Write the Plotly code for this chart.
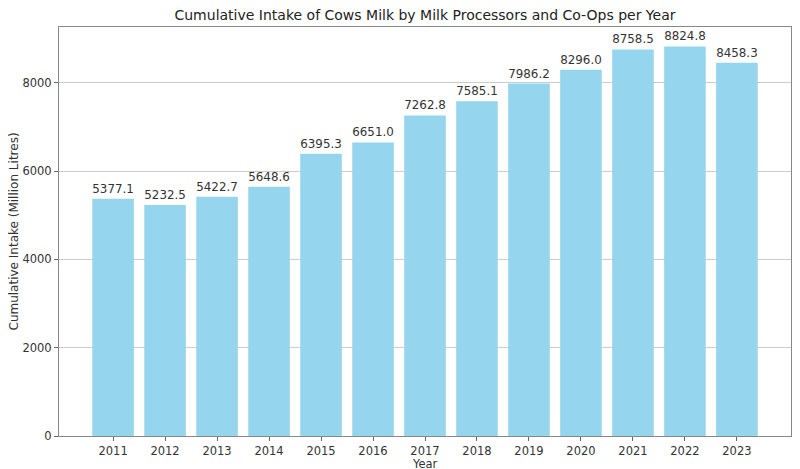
import plotly.graph_objects as go

years = [2011, 2012, 2013, 2014, 2015, 2016, 2017, 2018, 2019, 2020, 2021, 2022, 2023]
intake = [5377.1, 5232.5, 5422.7, 5648.6, 6395.3, 6651.0, 7262.8, 7585.1, 7986.2, 8296.0, 8758.5, 8824.8, 8458.3]
y_ticks = [0, 2000, 4000, 6000, 8000]

# page body has an 8px default margin; size the figure to fit the window
W, H = 792, 461
PW, PH = 732, 409  # plot area size in px

fig = go.Figure()
fig.add_trace(go.Bar(
    x=years, y=intake, width=0.8,
    marker=dict(color="rgb(150,213,238)", line=dict(width=0)),
    text=[f"{v:.1f}" for v in intake], textposition="outside",
    textfont=dict(family="DejaVu Sans", size=12, color="#333333"),
    cliponaxis=False,
))

fig.update_layout(
    width=W, height=H,
    margin=dict(l=51, r=9, t=19, b=33, autoexpand=False),
    plot_bgcolor="white", paper_bgcolor="white",
    font=dict(family="DejaVu Sans", size=11.5, color="#333333"),
    title=dict(text="Cumulative Intake of Cows Milk by Milk Processors and Co-Ops per Year",
               x=0.5, xanchor="center", xref="paper", yref="container",
               y=1 - 7 / H, yanchor="middle", automargin=False,
               font=dict(size=14, color="#222222")),
    showlegend=False,
    bargap=0.2,
    annotations=[
        dict(text="Year", xref="paper", yref="paper", x=0.5, y=-28 / PH,
             xanchor="center", yanchor="middle", showarrow=False, borderpad=0,
             font=dict(size=11.5, color="#333333")),
        dict(text="Cumulative Intake (Million Litres)", xref="paper", yref="paper",
             x=-46 / PW, y=0.5, xanchor="center", yanchor="middle", textangle=-90,
             showarrow=False, borderpad=0, font=dict(size=12, color="#333333")),
    ],
)
fig.update_xaxes(
    range=[2009.96, 2024.04], tickvals=years, ticktext=[str(y) for y in years],
    showgrid=False, ticks="outside", ticklen=4, tickcolor="#666666",
    showline=True, linecolor="#888888", linewidth=1, mirror=True,
    zeroline=False, automargin=False,
)
fig.update_yaxes(
    range=[0, 9266], tickvals=y_ticks,
    showgrid=True, gridcolor="#cccccc", gridwidth=1,
    ticks="outside", ticklen=4, tickcolor="#666666",
    showline=True, linecolor="#888888", linewidth=1, mirror=True,
    zeroline=False, automargin=False,
)
fig.write_html("out.html")
